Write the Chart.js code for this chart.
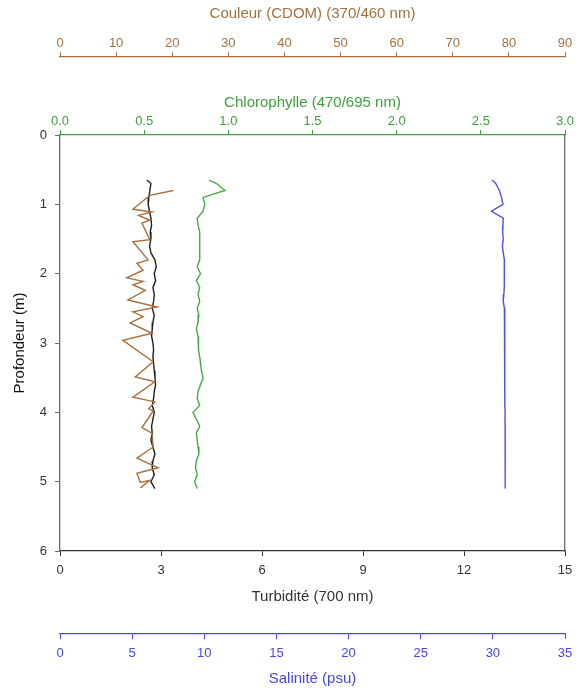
<!DOCTYPE html>
<html>
<head>
<meta charset="utf-8">
<script src="https://cdn.jsdelivr.net/npm/chart.js@4.4.1/dist/chart.umd.min.js"></script>
<style>
  html, body { margin: 0; padding: 0; background: #fff; }
  #profil { display: block; }
</style>
</head>
<body>
<canvas id="profil" width="584" height="690"></canvas>
<script>
// --- profile data (depth in m) ---
const depth = [0.65, 0.7, 0.8, 0.9, 1.0, 1.1, 1.2, 1.3, 1.4, 1.5, 1.6, 1.7, 1.8, 1.9, 2.0, 2.1, 2.2, 2.3, 2.4, 2.5,
               2.6, 2.7, 2.8, 2.9, 3.0, 3.1, 3.2, 3.3, 3.4, 3.5, 3.6, 3.7, 3.8, 3.9, 4.0, 4.1, 4.2, 4.3, 4.4, 4.5,
               4.6, 4.7, 4.8, 4.9, 5.0, 5.1];

const turbidite = [2.58, 2.70, 2.67, 2.64, 2.62, 2.66, 2.70, 2.72, 2.68, 2.70, 2.66, 2.70, 2.82, 2.86, 2.80, 2.84, 2.76, 2.80, 2.78, 2.74,
                   2.80, 2.76, 2.74, 2.72, 2.76, 2.78, 2.76, 2.78, 2.80, 2.82, 2.84, 2.80, 2.78, 2.74, 2.80, 2.76, 2.72, 2.74, 2.70, 2.76,
                   2.82, 2.76, 2.74, 2.80, 2.70, 2.82];

const chlorophylle = [0.885, 0.93, 0.98, 0.85, 0.86, 0.85, 0.815, 0.82, 0.83, 0.83, 0.83, 0.83, 0.83, 0.815, 0.835, 0.81, 0.83, 0.82, 0.83, 0.815,
                      0.825, 0.82, 0.81, 0.82, 0.82, 0.825, 0.83, 0.835, 0.84, 0.85, 0.835, 0.82, 0.815, 0.83, 0.79, 0.81, 0.83, 0.81, 0.815, 0.82,
                      0.825, 0.81, 0.805, 0.815, 0.80, 0.815];

const salinite = [29.94, 30.2, 30.45, 30.6, 30.7, 29.9, 30.72, 30.7, 30.68, 30.72, 30.66, 30.72, 30.8, 30.8, 30.8, 30.79, 30.78, 30.76, 30.72, 30.8,
                  30.81, 30.82, 30.81, 30.82, 30.82, 30.83, 30.82, 30.83, 30.83, 30.84, 30.83, 30.84, 30.84, 30.84, 30.85, 30.84, 30.85, 30.85, 30.85, 30.85,
                  30.86, 30.85, 30.86, 30.86, 30.86, 30.86];

// CDOM has its own sampling depths
const depthCdom = [0.80, 0.87, 1.07, 1.11, 1.16, 1.23, 1.27, 1.51, 1.54, 1.80, 1.85, 1.95, 2.06, 2.11, 2.16, 2.24, 2.38, 2.48, 2.55, 2.62,
                   2.71, 2.86, 2.96, 3.27, 3.49, 3.56, 3.78, 3.85, 3.95, 3.98, 4.22, 4.30, 4.50, 4.66, 4.80, 4.88, 5.01, 4.98, 5.09];
const cdom = [20.2, 16.0, 13.0, 16.4, 14.0, 16.0, 14.6, 16.0, 13.0, 15.7, 13.7, 14.8, 11.9, 14.8, 13.0, 15.2, 12.1, 17.3, 13.0, 14.8,
              12.5, 16.4, 11.2, 16.6, 13.4, 16.9, 13.0, 16.9, 15.8, 16.6, 14.6, 16.4, 16.6, 13.7, 17.5, 13.7, 14.3, 16.0, 14.3];

const pts = (xs, ys) => xs.map((v, i) => ({ x: v, y: ys[i] }));

const FONT = 'Liberation Sans, Arial, sans-serif';
const GREY = '#6a6a6a';
const BROWN = '#a5703f';
const GREEN = '#3f9f3f';
const BLUE = '#4646e6';

function hAxis(color, min, max, step, position, weight, boxH, title, pad, tickPad, fmt) {
    return {
        type: 'linear', position, weight, min, max,
        afterFit: s => { s.height = boxH; },
        ticks: { stepSize: step, color, padding: tickPad, maxRotation: 0, autoSkip: false,
                 font: { family: FONT, size: 13 }, callback: fmt || (v => v) },
        grid: { drawOnChartArea: false, drawTicks: true, tickLength: 5, color },
        border: { display: true, color, width: 1.3 },
        title: { display: true, text: title, color, padding: pad, font: { family: FONT, size: 15 } }
    };
}

new Chart(document.getElementById('profil'), {
    type: 'scatter',
    data: {
        datasets: [
            { data: pts(cdom, depthCdom), xAxisID: 'cdom', borderColor: BROWN },
            { data: pts(turbidite, depth), xAxisID: 'x', borderColor: '#1f1f1f' },
            { data: pts(chlorophylle, depth), xAxisID: 'chl', borderColor: '#4aa84a' },
            { data: pts(salinite, depth), xAxisID: 'sal', borderColor: '#5050ea' }
        ].map(d => Object.assign(d, { showLine: true, pointRadius: 0, borderWidth: 1.4, fill: false, yAxisID: 'y' }))
    },
    options: {
        responsive: false,
        animation: false,
        layout: { padding: 0 },
        plugins: { legend: { display: false }, tooltip: { enabled: false } },
        scales: {
            x:    hAxis('#333', 0, 15, 3, 'bottom', 0, 83, 'Turbidité (700 nm)', { top: 4, bottom: 28 }, 7),
            sal:  hAxis(BLUE, 0, 35, 5, 'bottom', 1, 56, 'Salinité (psu)', { top: 4, bottom: 2 }, 7),
            chl:  hAxis(GREEN, 0, 3, 0.5, 'top', 0, 78, 'Chlorophylle (470/695 nm)', { top: 37, bottom: 2 }, 1, v => v.toFixed(1)),
            cdom: hAxis(BROWN, 0, 90, 10, 'top', 1, 57, 'Couleur (CDOM) (370/460 nm)', { top: 5, bottom: 2 }, 1),
            y: {
                type: 'linear', position: 'left', reverse: true, min: 0, max: 6,
                afterFit: s => { s.width = 60; },
                ticks: { stepSize: 1, color: '#333', padding: 8, font: { family: FONT, size: 13 } },
                grid: { drawOnChartArea: false, drawTicks: true, tickLength: 5, color: GREY },
                border: { display: true, color: GREY, width: 1.3 },
                title: { display: true, text: 'Profondeur (m)', color: '#111', padding: { top: 11, bottom: 0 },
                         font: { family: FONT, size: 15 } }
            },
            yr: {
                type: 'linear', position: 'right', reverse: true, min: 0, max: 6,
                afterFit: s => { s.width = 19; },
                ticks: { display: false },
                grid: { display: false },
                border: { display: true, color: GREY, width: 1.3 }
            }
        }
    }
});
</script>
</body>
</html>
